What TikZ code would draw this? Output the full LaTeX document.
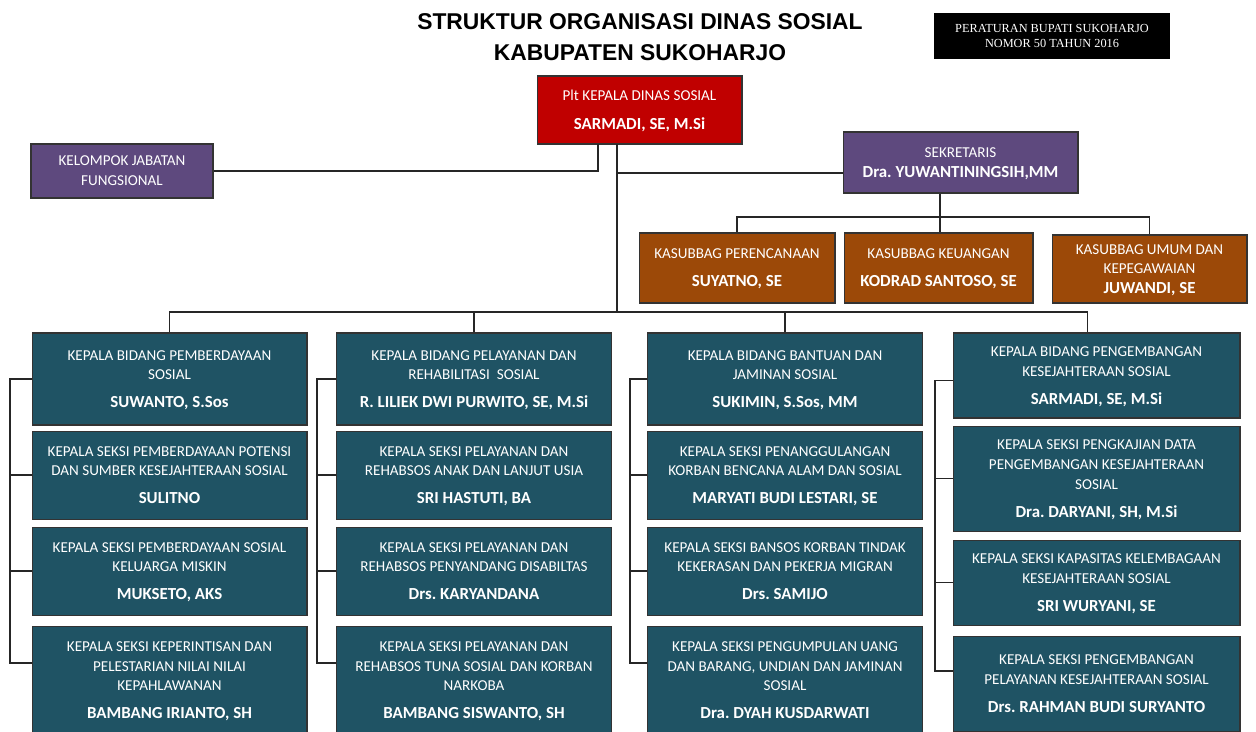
\documentclass[tikz,border=0pt]{standalone}
\usepackage{fontspec}
\setmainfont{Carlito}
\newfontfamily\titlefont{Liberation Sans}
\newfontfamily\rulefont{Liberation Serif}
\usetikzlibrary{positioning}
\frenchspacing
\definecolor{bidteal}{RGB}{31,83,100}
\definecolor{subbrown}{RGB}{156,73,8}
\definecolor{staffpurple}{RGB}{94,73,126}
\definecolor{headred}{RGB}{192,0,0}
\tikzset{
  unit/.style={
    rectangle,
    draw=black!80,
    line width=0.6pt,
    text=white,
    align=center,
    inner sep=2pt,
    text depth=0pt,
    font=\fontsize{8.6}{11.3}\selectfont
  },
  bidang/.style={unit, fill=bidteal, minimum width=5.5cm},
  subbag/.style={unit, fill=subbrown, minimum height=1.4cm},
  staff/.style={unit, fill=staffpurple},
  head/.style={unit, fill=headred},
  link/.style={draw=black!85, line width=0.8pt}
}
\newcommand{\nama}[1]{{\fontsize{9.6}{11.3}\selectfont\bfseries #1}}

\begin{document}
\begin{tikzpicture}[x=0.02cm, y=-0.02cm]
\useasboundingbox[fill=white] (0,0) rectangle (1256,731);

% --- title ---
\node (judul) [font=\titlefont\bfseries\fontsize{13}{17.6}\selectfont, align=center] at (640,37) {STRUKTUR ORGANISASI DINAS SOSIAL\\KABUPATEN SUKOHARJO};
\node (perbup) [fill=black, text=white, minimum width=4.72cm, minimum height=0.92cm, align=center, font=\rulefont\fontsize{7}{8.6}\selectfont] at (1052,36) {PERATURAN BUPATI SUKOHARJO\\NOMOR 50 TAHUN 2016};

% --- head, staff, secretary ---
\node (kadis) [head, minimum width=4.1cm, minimum height=1.36cm] at (639.5,110) {Plt KEPALA DINAS SOSIAL\\[5.1pt]\nama{SARMADI, SE, M.Si}};
\node (kjf) [staff, minimum width=3.64cm, minimum height=1.08cm] at (122,171) {KELOMPOK JABATAN\\FUNGSIONAL};
\node (sekre) [staff, minimum width=4.7cm, minimum height=1.22cm] at (960.5,162.5) {SEKRETARIS\\\nama{Dra. YUWANTININGSIH,MM}};

% --- sub sections ---
\node (sbPer) [subbag, minimum width=3.92cm] at (737,268) {KASUBBAG PERENCANAAN\\[4.6pt]\nama{SUYATNO, SE}};
\node (sbKeu) [subbag, minimum width=3.78cm] at (938.5,268) {KASUBBAG KEUANGAN\\[4.6pt]\nama{KODRAD SANTOSO, SE}};
\node (sbUmum) [subbag, minimum width=3.9cm, minimum height=1.36cm] at (1149.5,269) {KASUBBAG UMUM DAN\\KEPEGAWAIAN\\\nama{JUWANDI, SE}};

% --- first column ---
\node (bidA) [bidang, minimum height=1.84cm] at (169.5,379) {KEPALA BIDANG PEMBERDAYAAN\\SOSIAL\\[4.6pt]\nama{SUWANTO, S.Sos}};
\node (sekA1) [bidang, minimum height=1.76cm, below=0.1cm of bidA] {KEPALA SEKSI PEMBERDAYAAN POTENSI\\DAN SUMBER KESEJAHTERAAN SOSIAL\\[4.6pt]\nama{SULITNO}};
\node (sekA2) [bidang, minimum height=1.76cm, below=0.14cm of sekA1] {KEPALA SEKSI PEMBERDAYAAN SOSIAL\\KELUARGA MISKIN\\[4.6pt]\nama{MUKSETO, AKS}};
\node (sekA3) [bidang, minimum height=2.16cm, below=0.2cm of sekA2] {KEPALA SEKSI KEPERINTISAN DAN\\PELESTARIAN NILAI NILAI\\KEPAHLAWANAN\\[4.6pt]\nama{BAMBANG IRIANTO, SH}};

% --- second column ---
\node (bidB) [bidang, minimum height=1.84cm] at (474,379) {KEPALA BIDANG PELAYANAN DAN\\REHABILITASI\ \ SOSIAL\\[4.6pt]\nama{R. LILIEK DWI PURWITO, SE, M.Si}};
\node (sekB1) [bidang, minimum height=1.76cm, below=0.1cm of bidB] {KEPALA SEKSI PELAYANAN DAN\\REHABSOS ANAK DAN LANJUT USIA\\[4.6pt]\nama{SRI HASTUTI, BA}};
\node (sekB2) [bidang, minimum height=1.76cm, below=0.14cm of sekB1] {KEPALA SEKSI PELAYANAN DAN\\REHABSOS PENYANDANG DISABILTAS\\[4.6pt]\nama{Drs. KARYANDANA}};
\node (sekB3) [bidang, minimum height=2.16cm, below=0.2cm of sekB2] {KEPALA SEKSI PELAYANAN DAN\\REHABSOS TUNA SOSIAL DAN KORBAN\\NARKOBA\\[4.6pt]\nama{BAMBANG SISWANTO, SH}};

% --- third column ---
\node (bidC) [bidang, minimum height=1.84cm] at (785,379) {KEPALA BIDANG BANTUAN DAN\\JAMINAN SOSIAL\\[4.6pt]\nama{SUKIMIN, S.Sos, MM}};
\node (sekC1) [bidang, minimum height=1.76cm, below=0.1cm of bidC] {KEPALA SEKSI PENANGGULANGAN\\KORBAN BENCANA ALAM DAN SOSIAL\\[4.6pt]\nama{MARYATI BUDI LESTARI, SE}};
\node (sekC2) [bidang, minimum height=1.76cm, below=0.14cm of sekC1] {KEPALA SEKSI BANSOS KORBAN TINDAK\\KEKERASAN DAN PEKERJA MIGRAN\\[4.6pt]\nama{Drs. SAMIJO}};
\node (sekC3) [bidang, minimum height=2.16cm, below=0.2cm of sekC2] {KEPALA SEKSI PENGUMPULAN UANG\\DAN BARANG, UNDIAN DAN JAMINAN\\SOSIAL\\[4.6pt]\nama{Dra. DYAH KUSDARWATI}};

% --- fourth column ---
\node (bidD) [bidang, minimum width=5.74cm, minimum height=1.7cm] at (1096.5,375.5) {KEPALA BIDANG PENGEMBANGAN\\KESEJAHTERAAN SOSIAL\\[4.6pt]\nama{SARMADI, SE, M.Si}};
\node (sekD1) [bidang, minimum width=5.74cm, minimum height=2.1cm, below=0.14cm of bidD] {KEPALA SEKSI PENGKAJIAN DATA\\PENGEMBANGAN KESEJAHTERAAN\\SOSIAL\\[4.6pt]\nama{Dra. DARYANI, SH, M.Si}};
\node (sekD2) [bidang, minimum width=5.74cm, minimum height=1.7cm, below=0.16cm of sekD1] {KEPALA SEKSI KAPASITAS KELEMBAGAAN\\KESEJAHTERAAN SOSIAL\\[4.6pt]\nama{SRI WURYANI, SE}};
\node (sekD3) [bidang, minimum width=5.74cm, minimum height=1.9cm, below=0.2cm of sekD2] {KEPALA SEKSI PENGEMBANGAN\\PELAYANAN KESEJAHTERAAN SOSIAL\\[4.6pt]\nama{Drs. RAHMAN BUDI SURYANTO}};

% --- lines ---
\coordinate (kjfup) at (598,144);
\coordinate (trunktop) at (617,144);
\coordinate (bus) at (617,312);
\coordinate (subbus) at (940,217);
\coordinate (brA) at (10,0);
\coordinate (brB) at (317,0);
\coordinate (brC) at (630,0);
\coordinate (brD) at (935,0);

\draw[link] (kjf.east) -| (kjfup);
\draw[link] (trunktop) -- (bus);
\draw[link] (sekre.185) -- (sekre.185 -| trunktop);
\draw[link] (sekre.south -| subbus) -- (subbus |- sbKeu.north);
\draw[link] (sbPer.north) |- (subbus) -| (sbUmum.north);
\draw[link] (bidA.north) |- (bus) -| (bidD.102);
\draw[link] (bidB.north) -- (bidB.north |- bus);
\draw[link] (bidC.north) -- (bidC.north |- bus);

\draw[link] (bidA.west) -| (brA |- sekA3.173) -- (sekA3.173);
\draw[link] (sekA1.west) -- (sekA1.west -| brA);
\draw[link] (sekA2.west) -- (sekA2.west -| brA);
\draw[link] (bidB.west) -| (brB |- sekB3.173) -- (sekB3.173);
\draw[link] (sekB1.west) -- (sekB1.west -| brB);
\draw[link] (sekB2.west) -- (sekB2.west -| brB);
\draw[link] (bidC.west) -| (brC |- sekC3.173) -- (sekC3.173);
\draw[link] (sekC1.west) -- (sekC1.west -| brC);
\draw[link] (sekC2.west) -- (sekC2.west -| brC);
\draw[link] (bidD.182) -| (brD |- sekD3.175) -- (sekD3.175);
\draw[link] (sekD1.west) -- (sekD1.west -| brD);
\draw[link] (sekD2.west) -- (sekD2.west -| brD);

\end{tikzpicture}
\end{document}
